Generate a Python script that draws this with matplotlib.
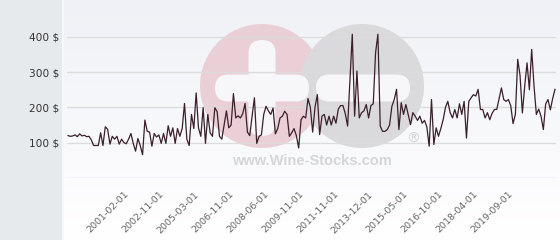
import numpy as np
import matplotlib
matplotlib.use("Agg")
import matplotlib.pyplot as plt
from matplotlib.patches import Rectangle, Circle, FancyBboxPatch

# ---- data ----
prices = [
    120, 118, 119, 122, 117, 125, 119, 121, 117, 118,
    108, 92, 92, 92, 128, 92, 145, 138, 96, 118,
    110, 118, 96, 110, 100, 97, 110, 126, 98, 76,
    112, 92, 66, 164, 132, 130, 90, 126, 116, 122,
    98, 126, 98, 148, 118, 142, 98, 140, 118, 140,
    211, 110, 92, 180, 140, 241, 142, 118, 199, 98,
    180, 128, 118, 199, 188, 118, 110, 150, 190, 142,
    150, 239, 170, 176, 170, 182, 211, 130, 120, 175,
    227, 98, 118, 122, 180, 203, 190, 180, 198, 125,
    140, 170, 175, 189, 180, 118, 128, 140, 120, 85,
    165, 175, 170, 225, 200, 130, 200, 236, 123, 175,
    180, 150, 175, 150, 175, 155, 195, 205, 205, 182,
    147, 279, 407, 175, 303, 170, 185, 190, 208, 170,
    205, 210, 355, 407, 147, 132, 132, 137, 150, 203,
    222, 251, 137, 213, 180, 208, 180, 151, 185, 175,
    163, 175, 155, 163, 145, 90, 222, 95, 142, 118,
    140, 165, 200, 217, 185, 170, 194, 170, 210, 180,
    217, 113, 217, 227, 236, 232, 251, 194, 194, 170,
    185, 165, 183, 194, 194, 225, 255, 222, 217, 222,
    205, 154, 180, 336, 290, 184, 260, 326, 250, 364,
    260, 180, 195, 175, 137, 210, 222, 193, 225, 251,
]
tick_labels = ["2001-02-01", "2002-11-01", "2005-03-01", "2006-11-01",
               "2008-06-01", "2009-11-01", "2011-11-01", "2013-12-01",
               "2015-05-01", "2016-10-01", "2018-04-01", "2019-09-01"]
first_label_index = 24
label_step = 15
y_ticks = [100, 200, 300, 400]

W, H = 560, 240
fig = plt.figure(figsize=(W / 100, H / 100), dpi=100)

# ---- background layer in pixel coordinates ----
bg = fig.add_axes([0, 0, 1, 1], zorder=0)
bg.set_xlim(0, W)
bg.set_ylim(H, 0)
bg.axis("off")

grad = np.linspace(0, 1, 256).reshape(-1, 1)
top = np.array([0.937, 0.945, 0.965])
bot = np.array([1.0, 1.0, 1.0])
img = top + (bot - top) * grad[..., None]
img = np.repeat(img, 2, axis=1)
bg.imshow(img, extent=[63, W, H, 0], aspect="auto", zorder=0)
bg.add_patch(Rectangle((0, 0), 62, H, color="#e6eaed", zorder=1, lw=0))
bg.add_patch(Rectangle((62, 0), 1.5, H, color="#f7f8fa", zorder=1, lw=0))

# watermark logo
bg.add_patch(Circle((262, 86), 62, color="#eacfd6", zorder=2, lw=0))
bg.add_patch(Circle((362, 86), 62, color="#dadadc", zorder=3, lw=0))
wcol = "#f7f7f9"
bg.add_patch(FancyBboxPatch((215, 74.5), 94, 27, boxstyle="round,pad=0,rounding_size=13.5",
                            color=wcol, zorder=4, lw=0))
bg.add_patch(FancyBboxPatch((248.5, 40), 27, 96, boxstyle="round,pad=0,rounding_size=13.5",
                            color=wcol, zorder=4, lw=0))
bg.add_patch(FancyBboxPatch((316, 74.5), 94, 27, boxstyle="round,pad=0,rounding_size=13.5",
                            color=wcol, zorder=4, lw=0))
bg.text(312, 161, "www.Wine-Stocks.com", ha="center", va="center",
        fontsize=10.5, fontweight="bold", color="#d6d6d8", family="Liberation Sans", zorder=5)
bg.text(413, 139, "®", ha="center", va="center", fontsize=10,
        color="#d3d3d5", family="DejaVu Sans", zorder=5)

# ---- main axes ----
n = len(prices)
px_per_idx = 487 / (n - 1)
x0_px = 68 - 0.6 * px_per_idx
x1_px = 68 + (n - 1 + 0.6) * px_per_idx
y_zero_px = 178
y_top_px = 20
px_per_unit = (178 - 36.7) / 400
ymax = (y_zero_px - y_top_px) / px_per_unit

ax = fig.add_axes([x0_px / W, (H - y_zero_px) / H, (x1_px - x0_px) / W,
                   (y_zero_px - y_top_px) / H], zorder=2)
ax.set_facecolor("none")
ax.set_xlim(-0.6, n - 1 + 0.6)
ax.set_ylim(0, ymax)
for s in ax.spines.values():
    s.set_visible(False)

for v in [0] + y_ticks:
    ax.axhline(v, color="#dcdcdc", lw=1, zorder=1)

ax.plot(range(n), prices, color="#3b1f2b", lw=0.9, zorder=3)

ax.set_yticks(y_ticks)
ax.set_yticklabels([f"{v} $" for v in y_ticks])
ax.tick_params(axis="y", length=0, pad=5.5, labelsize=7.6, labelcolor="#333333")

xt = [first_label_index + label_step * i for i in range(len(tick_labels))]
ax.set_xticks(xt)
ax.set_xticklabels(tick_labels, rotation=45, ha="right", va="top",
                   rotation_mode="anchor")
ax.tick_params(axis="x", length=0, pad=8.5, labelsize=6.8, labelcolor="#666666")

fig.savefig("out.png", dpi=100)
